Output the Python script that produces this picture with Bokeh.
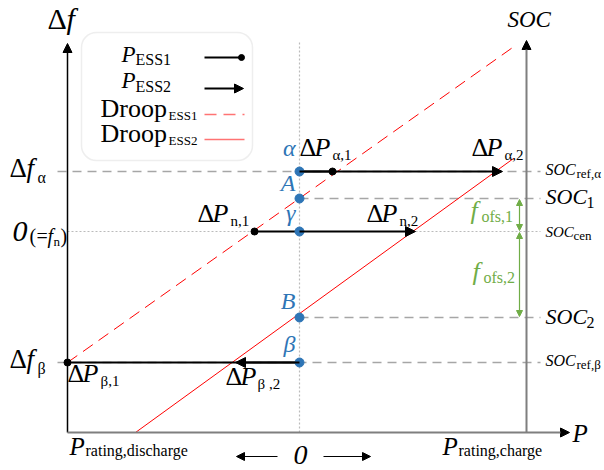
from bokeh.plotting import figure
from bokeh.models import Range1d, Arrow, NormalHead, BoxAnnotation
from bokeh.core.properties import value
from bokeh.embed import file_html
from bokeh.resources import INLINE

# ---------------- data (P and delta-f in drawing units, origin at P=0, df=0) ----------------
p_rating = [-232, 227]                 # P_rating,discharge , P_rating,charge
level_names = ["α", "A", "γ", "B", "β"]
level_df = [60, 33, 0, -86, -131]      # df_alpha, SOC1, 0(=f_n), SOC2, df_beta
row_df = [60, 0, -131]                 # rows alpha, n, beta
p_ess1 = [33, -45, -232]               # dP_alpha,1  dP_n,1  dP_beta,1
p_ess2 = [203, 116, -64]               # dP_alpha,2  dP_n,2  dP_beta,2
droop1_p = [-232, 216]
droop1_df = [-131, 186]
droop2_p = [-164, 214]
droop2_df = [-201, 73]
fofs_df = [[33, 0], [0, -86]]
axis_df = [-201, 188]
soc_axis_df = [-201, 191]

# ---------------- layout ----------------
W, H = 604, 470
X0, Y0 = 299, 231
FONT = "Liberation Serif"
BLUE = "#2E75B6"
GREEN = "#70AD47"
GRAY = "#A6A6A6"

p = figure(width=W, height=H, x_range=Range1d(-X0, W - X0), y_range=Range1d(Y0 - H, Y0),
           toolbar_location=None, output_backend="svg", min_border=0,
           x_axis_location=None, y_axis_location=None)
p.grid.visible = False
p.outline_line_color = None
p.background_fill_color = "white"


def T(x, y, s, size, style="normal", color="black", align="left"):
    shift = 2 + 0.3 * size
    p.text(x=[x - X0], y=[Y0 - (y - shift)], text=[s], text_font=value(FONT),
           text_font_size=f"{size}px", text_font_style=style, text_color=color,
           text_align=align, text_baseline="alphabetic")


def px(x):
    return x - X0


def py(y):
    return Y0 - y


right_end = px(540)
tick_left = px(57)

# guide lines
p.line([tick_left, right_end], [level_df[0]] * 2, line_color=GRAY, line_width=1.5, line_dash="9 6")
p.line([tick_left, right_end], [level_df[4]] * 2, line_color=GRAY, line_width=1.5, line_dash="9 6")
p.line([0, right_end], [level_df[1]] * 2, line_color=GRAY, line_width=1.5, line_dash="9 6")
p.line([0, right_end], [level_df[3]] * 2, line_color=GRAY, line_width=1.5, line_dash="9 6")
p.line([p_rating[0], right_end], [level_df[2]] * 2, line_color="#BBBBBB", line_width=1, line_dash="2 2")
p.line([0, 0], [axis_df[0], soc_axis_df[1]], line_color="#BBBBBB", line_width=1.2, line_dash="2 2")

# axes
p.add_layout(Arrow(x_start=p_rating[0], y_start=axis_df[0], x_end=p_rating[0], y_end=axis_df[1],
                   line_color="black", line_width=1.5,
                   end=NormalHead(size=9, fill_color="black", line_color="black")))
p.add_layout(Arrow(x_start=p_rating[0], y_start=axis_df[0], x_end=px(569), y_end=axis_df[0],
                   line_color="#7F7F7F", line_width=2,
                   end=NormalHead(size=9, fill_color="black", line_color="black")))
p.add_layout(Arrow(x_start=p_rating[1], y_start=soc_axis_df[0], x_end=p_rating[1], y_end=soc_axis_df[1],
                   line_color="#7F7F7F", line_width=2,
                   end=NormalHead(size=9, fill_color="black", line_color="black")))

# droop lines
p.line(droop1_p, droop1_df, line_color="red", line_width=1, line_dash="12 7")
p.line(droop2_p, droop2_df, line_color="red", line_width=1)

# power rows
for f, a, b in zip(row_df, p_ess1, p_ess2):
    p.line([0, a], [f, f], line_color="black", line_width=2)
    p.add_layout(Arrow(x_start=0, y_start=f, x_end=b, y_end=f, line_color="black", line_width=2,
                       end=NormalHead(size=10, fill_color="black", line_color="black")))
p.scatter(p_ess1, row_df, size=7, color="black")

# green offsets
gx = px(519)
for seg in fofs_df:
    p.add_layout(Arrow(x_start=gx, y_start=seg[0] - 1, x_end=gx, y_end=seg[1] + 1,
                       line_color=GREEN, line_width=1.2,
                       start=NormalHead(size=6, fill_color=GREEN, line_color=GREEN),
                       end=NormalHead(size=6, fill_color=GREEN, line_color=GREEN)))

# blue points
p.scatter([0] * len(level_df), level_df, size=9, color=BLUE)

# legend box
p.add_layout(BoxAnnotation(left=px(81), right=px(252), top=py(32), bottom=py(160),
                           fill_color=None, line_color="#C8C8C8", line_width=1.5,
                           border_radius=15, level="underlay"))
p.line([px(204), px(241)], [py(57)] * 2, line_color="black", line_width=2)
p.scatter([px(241)], [py(57)], size=6, color="black")
p.add_layout(Arrow(x_start=px(204), y_start=py(88), x_end=px(243), y_end=py(88),
                   line_color="black", line_width=2,
                   end=NormalHead(size=9, fill_color="black", line_color="black")))
p.line([px(204), px(244)], [py(114)] * 2, line_color="red", line_alpha=0.55, line_width=1.5, line_dash="12 7")
p.line([px(204), px(244)], [py(139)] * 2, line_color="red", line_alpha=0.55, line_width=1.5)

T(121, 63, "P", 23, "italic")
T(135, 66, "ESS1", 16)
T(121, 89, "P", 23, "italic")
T(135, 93, "ESS2", 16)
T(100, 118, "Droop", 26)
T(168, 121, "ESS1", 13)
T(100, 143, "Droop", 26)
T(168, 146, "ESS2", 13)

# left labels
T(47, 29, "Δ", 30)
T(66, 29, "f", 30, "italic")
T(9, 178, "Δ", 27)
T(26, 178, "f", 27, "italic")
T(37, 184, "α", 16)
T(12, 242, "0", 30, "italic")
T(29, 243, "(", 20)
T(36, 243, "=", 20)
T(47, 243, "f", 20, "italic")
T(53, 247, "n", 13)
T(60, 243, ")", 20)
T(9, 369, "Δ", 27)
T(26, 369, "f", 27, "italic")
T(37, 375, "β", 16)

# blue point labels
for name, y in zip(level_names, [157, 192, 222, 310, 353]):
    T(295, y, name, 24, "italic", BLUE, "right")


# dP labels
def dP(x, y, sub, sub_dx=33):
    T(x, y, "Δ", 26)
    T(x + 15, y, "P", 26, "italic")
    T(x + sub_dx, y + 4, sub, 15)


dP(299, 157, "α,1")
dP(471, 157, "α,2")
dP(197, 223, "n,1")
dP(366, 223, "n,2")
dP(67, 383, "β,1")
dP(225, 386, "β ,2", 32)

# bottom labels
T(69, 455, "P", 25, "italic")
T(85, 457, "rating,discharge", 16)
T(442, 455, "P", 25, "italic")
T(458, 457, "rating,charge", 16)
T(300, 465, "0", 28, "italic", align="center")
T(572, 442, "P", 25, "italic")
p.add_layout(Arrow(x_start=px(277), y_start=py(456), x_end=px(236), y_end=py(456),
                   line_color="black", line_width=1.2,
                   end=NormalHead(size=8, fill_color="black", line_color="black")))
p.add_layout(Arrow(x_start=px(323), y_start=py(456), x_end=px(370), y_end=py(456),
                   line_color="black", line_width=1.2,
                   end=NormalHead(size=8, fill_color="black", line_color="black")))

# right labels
T(507, 28, "SOC", 23, "italic")
T(545, 176, "SOC", 16, "italic")
T(576, 179, "ref,α", 13)
T(545, 205, "SOC", 22, "italic")
T(586, 209, "1", 16)
T(545, 238, "SOC", 15, "italic")
T(573, 241, "cen", 13)
T(545, 325, "SOC", 22, "italic")
T(586, 329, "2", 16)
T(545, 367, "SOC", 16, "italic")
T(576, 370, "ref,β", 13)

# green labels
T(470, 220, "f", 26, "italic", GREEN)
T(481, 223, "ofs,1", 16, color=GREEN)
T(472, 281, "f", 26, "italic", GREEN)
T(483, 284, "ofs,2", 16, color=GREEN)

open("out.html", "w").write(file_html(p, INLINE))
